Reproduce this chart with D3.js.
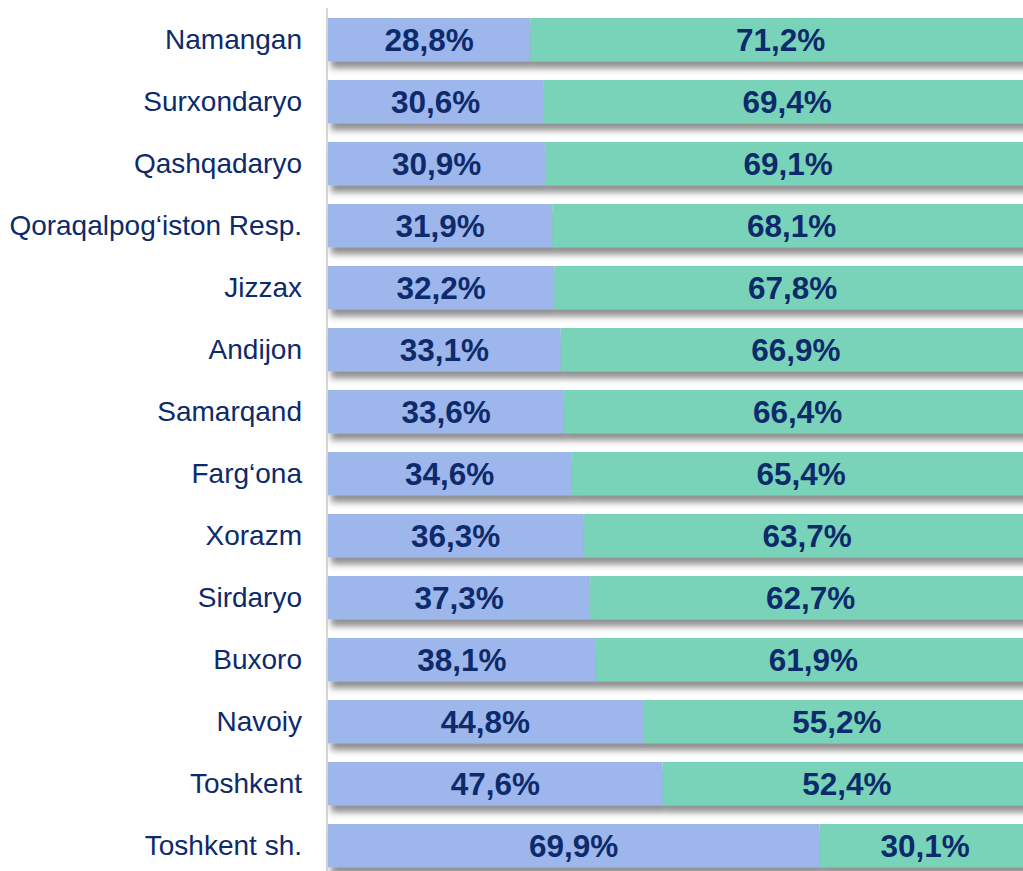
<!DOCTYPE html>
<html><head><meta charset="utf-8">
<script src="https://cdn.jsdelivr.net/npm/d3@7"></script>
<style>body{margin:0;background:#fff}svg{display:block}</style>
</head><body>
<script>
const categories = ["Namangan","Surxondaryo","Qashqadaryo","Qoraqalpog‘iston Resp.","Jizzax","Andijon","Samarqand","Farg‘ona","Xorazm","Sirdaryo","Buxoro","Navoiy","Toshkent","Toshkent sh."];
const series1 = [28.8,30.6,30.9,31.9,32.2,33.1,33.6,34.6,36.3,37.3,38.1,44.8,47.6,69.9];
const series2 = [71.2,69.4,69.1,68.1,67.8,66.9,66.4,65.4,63.7,62.7,61.9,55.2,52.4,30.1];

const W=1023,H=871;
const svg=d3.select("body").append("svg").attr("width",W).attr("height",H);
const defs=svg.append("defs");
const f=defs.append("filter").attr("id","sh").attr("x","-5%").attr("y","-30%").attr("width","115%").attr("height","180%");
f.append("feDropShadow").attr("dx",3).attr("dy",7).attr("stdDeviation",3).attr("flood-color","#555").attr("flood-opacity",0.65);

const x=d3.scaleLinear().domain([0,100]).range([328,1031]);
const y=d3.scaleBand().domain(categories).range([8.7,876.7]).paddingInner(0.3).paddingOuter(0.15);
const fmt=v=>v.toFixed(1).replace(".",",")+"%";
const txt="#0d2a6b";

const g=svg.append("g");
categories.forEach((c,i)=>{
  const row=g.append("g").attr("filter","url(#sh)");
  row.append("rect").attr("x",x(0)).attr("y",y(c)).attr("width",x(series1[i])-x(0)).attr("height",y.bandwidth()).attr("fill","#9db6eb");
  row.append("rect").attr("x",x(series1[i])).attr("y",y(c)).attr("width",x(100)-x(series1[i])).attr("height",y.bandwidth()).attr("fill","#79d3b9");
});
categories.forEach((c,i)=>{
  const cy=y(c)+y.bandwidth()/2;
  g.append("text").attr("x",(x(0)+x(series1[i]))/2).attr("y",cy).attr("dy","0.36em").attr("text-anchor","middle")
    .attr("font-family","Liberation Sans, Arial, sans-serif").attr("font-weight","bold").attr("font-size",31.5).attr("fill",txt).text(fmt(series1[i]));
  g.append("text").attr("x",(x(series1[i])+x(100))/2).attr("y",cy).attr("dy","0.36em").attr("text-anchor","middle")
    .attr("font-family","Liberation Sans, Arial, sans-serif").attr("font-weight","bold").attr("font-size",31.5).attr("fill",txt).text(fmt(series2[i]));
});
const ax=svg.append("g").attr("transform",`translate(${x(0)-1},0)`).call(d3.axisLeft(y).tickSize(0).tickPadding(25));
ax.select(".domain").attr("stroke","#bfbfbf").attr("stroke-width",1.3).attr("d",`M0,8V${H}`);
ax.selectAll("text").attr("font-family","Liberation Sans, Arial, sans-serif").attr("font-size",28).attr("fill",txt);
</script>
</body></html>
